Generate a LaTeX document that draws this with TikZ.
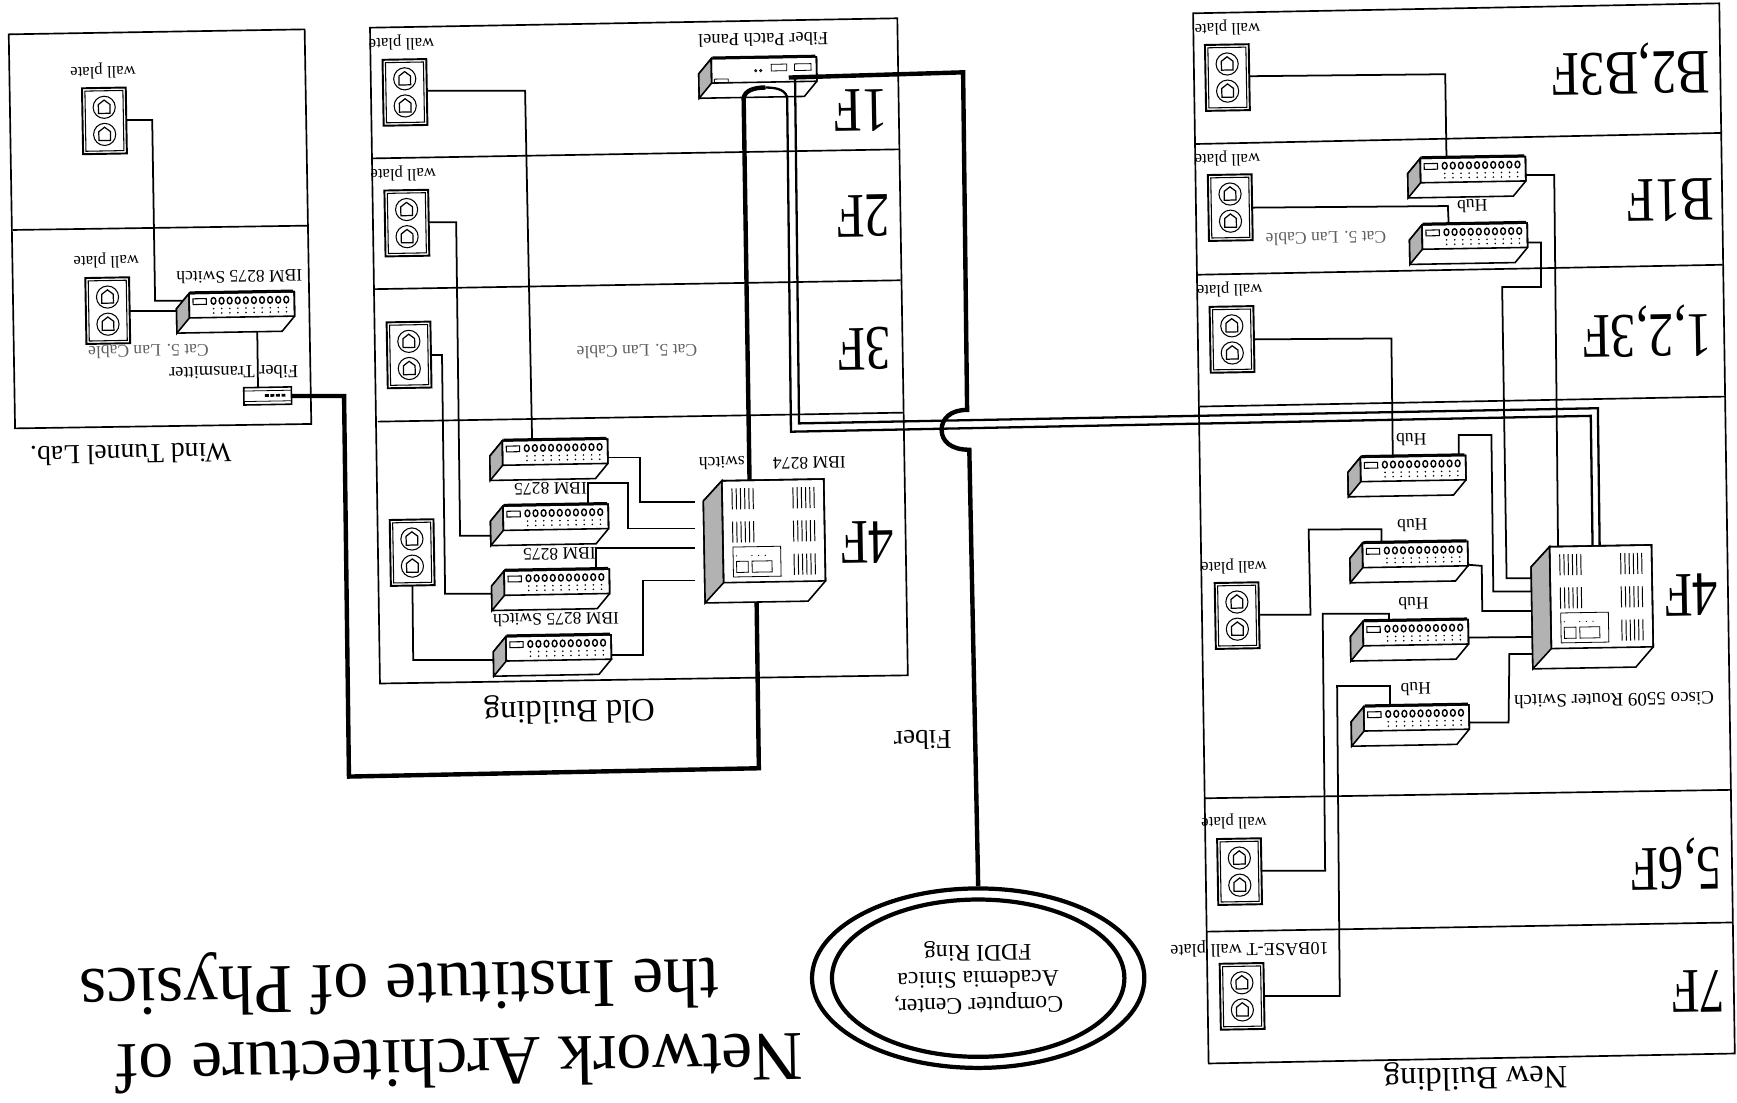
\documentclass[tikz,border=0pt]{standalone}
\usepackage{fontspec}
\setmainfont{Liberation Serif}
\newfontfamily\floorfont[FakeStretch=0.8]{Liberation Serif}
\usetikzlibrary{backgrounds, shapes.geometric}
\newcommand{\ovpx}{0.0221556cm}
\newcommand{\hubbody}{%
  \node[devbox, minimum width=107*\ovpx, minimum height=35.5*\ovpx] (-b) at (41.75,17.75) {};
  \filldraw[devline, fill=white] (0,0) -- (95,0) -- (95,22) -- (83.5,35.5) -- (-11.5,35.5) -- (-11.5,13.5) -- cycle;
  \filldraw[devline, fill=black!30] (0,0) -- (-11.5,13.5) -- (-11.5,35.5) -- (0,22) -- cycle;
  \draw[devline] (0,22) rectangle (95,0);
  \draw[line width=1pt] (1,-1.2) -- (94,-1.2);
}
\tikzset{
  tilt/.style={rotate=1},
  devbox/.style={inner sep=0pt, outer sep=0pt},
  devline/.style={line width=0.9pt},
  thinline/.style={line width=0.45pt},
  bldg/.style={line width=0.95pt},
  wire/.style={line width=1pt},
  fiber/.style={line width=2.5pt},
  fibermid/.style={line width=1.3pt},
  lbl/.style={rotate=181, inner sep=0pt, font=\fontsize{10}{12}\selectfont},
  lblsm/.style={lbl, font=\fontsize{9.5}{11}\selectfont},
  lblcat/.style={lbl, text=black!62},
  floorlbl/.style={rotate=181, inner sep=0pt, font=\fontsize{36}{40}\floorfont},
  namelbl/.style={rotate=181, inner sep=0pt, font=\fontsize{18.5}{20}\selectfont},
  titlelbl/.style={rotate=181, inner sep=0pt, font=\fontsize{39.8}{44}\selectfont},
  ringline/.style={draw, ellipse, inner sep=0pt, line width=2.4pt},
  pics/wallplate/.style={code={
    \node[devbox, minimum width=39.5*\ovpx, minimum height=59.5*\ovpx] (-b) at (19.75,29.75) {};
    \filldraw[line width=1.1pt, fill=white] (0,0) rectangle (39.5,59.5);
    \draw[line width=0.6pt] (2.6,2.6) rectangle (36.9,56.9);
    \foreach \cy in {17.5,42} {
      \draw[line width=0.6pt] (19.75,\cy) circle [radius=10];
      \draw[line width=0.7pt] (14.5,\cy+5.5) -- (25,\cy+5.5) -- (25,\cy-2.5) -- (19.75,\cy-6.5) -- (14.5,\cy-2.5) -- cycle;
    }
  }},
  pics/hub/.style={code={
    \hubbody
    \draw[line width=0.6pt] (3.5,4.8) rectangle (15.5,10);
    \foreach \i in {0,...,9} {
      \draw[line width=0.8pt] (22+\i*7.3,7) ellipse [x radius=2.2, y radius=3];
      \fill (22+\i*7.3,14) circle [radius=0.8];
      \fill (22+\i*7.3,18) circle [radius=0.8];
    }
  }},
  pics/patchpanel/.style={code={
    \hubbody
    \draw[thinline] (54,6) rectangle (68,12);
    \draw[thinline] (75,6) rectangle (90,12);
    \draw[thinline] (40,11.5) circle [radius=1];
    \draw[thinline] (44.5,11.5) circle [radius=1];
    \draw[thinline] (2.5,18.5) rectangle (15,22);
  }},
  pics/transmitter/.style={code={
    \node[devbox, minimum width=43*\ovpx, minimum height=15.6*\ovpx] (-b) at (21.5,7.8) {};
    \filldraw[devline, fill=white] (0,0) rectangle (43,15.6);
    \draw[thinline] (0,3) -- (43,3);
    \draw[thinline] (0,12.5) -- (43,12.5);
    \foreach \i in {0,...,3} {\fill (19+\i*5,6.2) rectangle (22.5+\i*5,8.6);}
  }},
  pics/bigswitch/.style={code={
    \node[devbox, minimum width=109*\ovpx, minimum height=110*\ovpx] (-b) at (37.5,55) {};
    \filldraw[devline, fill=white] (0,0) -- (92,0) -- (92,92) -- (76,110) -- (-17,110) -- (-17,18) -- cycle;
    \filldraw[devline, fill=black!30] (0,0) -- (-17,18) -- (-17,110) -- (0,92) -- cycle;
    \draw[devline] (0,92) rectangle (92,0);
    \foreach \cx/\cy in {9/7, 64/7, 9/37, 64/37, 64/67} {
      \foreach \k in {0,...,5} {\draw[line width=0.55pt] (\cx+\k*3.8,\cy) -- (\cx+\k*3.8,\cy+19);}
    }
    \draw[thinline] (9,60) rectangle (52,87);
    \draw[thinline] (12,73) rectangle (22.5,83);
    \draw[thinline] (26,73) rectangle (44,83);
    \foreach \k in {12,26,32,38} {\fill (\k,68) circle [radius=0.6];}
  }}
}
\begin{document}
\begin{tikzpicture}[x=\ovpx, y=-\ovpx]
  \useasboundingbox (0,0) rectangle (1568,995);
  % devices
  \foreach \n/\x/\y in {
    wpWa/74/79.7, wpWb/77/251,
    wpOa/345.3/54, wpOb/347/172, wpOc/349/291, wpOd/351.8/469.4,
    wpNa/1087.7/40.6, wpNb/1090.3/158, wpNc/1091.9/277, wpNd/1096.5/526.3, wpNe/1098.7/757.4, wpNf/1101/870} {
    \pic[tilt] (\n) at (\x,\y) {wallplate};
  }
  \foreach \n/\x/\y in {
    hubW/170.6/265,
    hubOa/453.4/398, hubOb/454/456.8, hubOc/455/515.4, hubOd/456.6/574.7,
    hubNa/1282/143, hubNb/1283.6/203, hubNc/1228/412.8, hubNd/1229.8/490.4, hubNe/1230.3/561, hubNf/1231/637.9} {
    \pic[tilt] (\n) at (\x,\y) {hub};
  }
  \pic[tilt] (swO) at (651.6,434) {bigswitch};
  \pic[tilt] (swN) at (1398.8,493.5) {bigswitch};
  \pic[tilt] (panel) at (642,53) {patchpanel};
  \pic[tilt] (ftx) at (220,350) {transmitter};
  \node[ringline, minimum width=300*\ovpx, minimum height=162*\ovpx] (ringO) at (883,883) {};
  \node[ringline, minimum width=264*\ovpx, minimum height=142*\ovpx] (ringI) at (883,883) {};

  % buildings and cables go under the devices
  \begin{scope}[on background layer]
    \draw[bldg] (7.9,31) -- (275,26.5) -- (281,382.7) -- (13.6,386.7) -- cycle;
    \draw[bldg] (11.4,207.6) -- (277.7,203.7);
    \draw[bldg] (334,25) -- (810,16.5) -- (819.5,609.6) -- (343,617) -- cycle;
    \foreach \xa/\ya/\xb/\yb in {335.7/143/812/134.8, 338.6/261/813/253, 341/380.6/815/372.5} {
      \draw[bldg] (\xa,\ya) -- (\xb,\yb);
    }
    \draw[bldg] (1077,12) -- (1552,3) -- (1566,951) -- (1091,960) -- cycle;
    \foreach \xa/\ya/\xb/\yb in {1079/130/1554/120, 1081/248/1555/239, 1083/367/1557/358, 1087.5/720.6/1563/713, 1089/841/1564/832.7} {
      \draw[bldg] (\xa,\ya) -- (\xb,\yb);
    }
    % wind tunnel
    \draw[wire] (wpWa-b.center |- 0,108.3) -- (137.4,108.3) -- (140,271.4) -- (hubW-b.center |- 0,271.4);
    \draw[wire] (wpWb-b.center |- 0,280.4) -- (hubW-b.center |- 0,280.4);
    \draw[wire] (232,0 |- hubW-b.center) -- (233,0 |- ftx-b.center);
    % old building
    \draw[wire] (wpOa-b.center |- 0,82) -- (474,82) -- (480.3,396) -- (480.3,0 |- hubOa-b.center);
    \draw[wire] (wpOb-b.center |- 0,200.7) -- (411.8,200.7) -- (415.3,483.6) -- (hubOb-b.center |- 0,483.6);
    \draw[wire] (wpOc-b.center |- 0,320.5) -- (399,320.5) -- (401.8,536) -- (hubOc-b.center |- 0,536);
    \draw[wire] (372,0 |- wpOd-b.center) -- (373,595.8) -- (hubOd-b.center |- 0,595.8);
    \draw[wire] (hubOa-b.center |- 0,413) -- (578,413) -- (578,453) -- ([xshift=-5pt]swO-b.west |- 0,453);
    \draw[wire] (531,0 |- hubOb-b.center) -- (531,436) -- (567,436) -- (567,477) -- ([xshift=-5pt]swO-b.west |- 0,477);
    \draw[wire] (538,0 |- hubOc-b.center) -- (538,495) -- ([xshift=-5pt]swO-b.west |- 0,495);
    \draw[wire] (hubOd-b.center |- 0,591) -- (580.6,591) -- (580.6,524) -- ([xshift=-5pt]swO-b.west |- 0,524);
    % new building
    \draw[wire] (wpNa-b.center |- 0,69) -- (1304.6,67) -- (1306,0 |- hubNa-b.center);
    \draw[wire] (wpNb-b.center |- 0,187.6) -- (1307,186) -- (1308.5,0 |- hubNb-b.center);
    \draw[wire] (wpNc-b.center |- 0,306.5) -- (1256,305.5) -- (1257.5,0 |- hubNc-b.center);
    \draw[wire] (hubNa-b.center |- 0,158) -- (1403,158) -- (1407,0 |- swN-b.center);
    \draw[wire] (hubNb-b.center |- 0,219) -- (1391,219) -- (1391,259) -- (1356,259) -- (1360,522) -- (swN-b.west |- 0,522);
    \draw[wire] (1316.7,0 |- hubNc-b.center) -- (1316.7,392.6) -- (1346.3,392.6) -- (1348,534) -- (swN-b.west |- 0,534);
    \draw[wire] (hubNd-b.center |- 0,505.4) -- (1337.6,510.8) -- (1338,551.5) -- (swN-b.west |- 0,551.5);
    \draw[wire] (1247.4,0 |- hubNd-b.center) -- (1247,477.7) -- (1181.3,478) -- (1183,555) -- (wpNd-b.center |- 0,555);
    \draw[wire] (hubNe-b.center |- 0,576) -- (swN-b.west |- 0,575);
    \draw[wire] (1253.8,0 |- hubNe-b.center) -- (1253.8,554) -- (1194,554) -- (1196.2,786) -- (wpNe-b.center |- 0,786);
    \draw[wire] (hubNf-b.center |- 0,652.3) -- (1361.8,652.3) -- (1362.5,590.3) -- (swN-b.west |- 0,590.3);
    \draw[wire] (1254.8,0 |- hubNf-b.center) -- (1254.8,619.2) -- (1207,619.2) -- (1209.4,899) -- (wpNf-b.center |- 0,899);
  \end{scope}

  % fiber
  \draw[fiber] (ftx-b.east) -- (310.6,357.5) -- (315,701) -- (685,693.5) -- (683,0 |- swO-b.south);
  \draw[fiber] (676.6,0 |- swO-b.north) -- (671.3,89) .. controls (672,82) and (680,79) .. (691,79);
  \draw[fibermid] (691,79) .. controls (703,79) and (710,82) .. (710.6,89) -- (714,389.7) -- (1436,375.4) -- (1437.6,0 |- swN-b.north);
  \draw[fibermid] (717.7,0 |- panel-b.center) -- (721.3,382.2) -- (1442.4,368.5) -- (1444,0 |- swN-b.north);
  \draw[fiber] (712,0 |- panel-b.center) -- (869.4,65.3) -- (873,370) .. controls (858,370) and (850,378) .. (850,388) .. controls (850,398) and (858,406) .. (875,406) -- (ringO.north);

  % labels
  \foreach \n/\x/\y in {
    lbWa/93/64, lbWb/96/235, lbOa/362.5/38.5, lbOb/364/156.5,
    lbNa/1108/25, lbNb/1108/143, lbNc/1110/261, lbNd/1114/511, lbNe/1114/741.7} {
    \node[lblsm] (\n) at (\x,\y) {wall plate};
  }
  \node[lblsm, font=\fontsize{10.4}{12}\selectfont] (lbNf) at (1128,856) {10BASE-T wall plate};
  \foreach \n/\x/\y in {lbCa/134/317, lbCb/575/317, lbCc/1197/215} {
    \node[lblcat] (\n) at (\x,\y) {Cat 5. Lan Cable};
  }
  \foreach \n/\x/\y in {lbHa/1329/186, lbHb/1274/397, lbHc/1275/474, lbHd/1276/545, lbHe/1278/622} {
    \node[lbl] (\n) at (\x,\y) {Hub};
  }
  \foreach \n/\x/\y/\t in {
    lbSa/216/250/IBM 8275 Switch, lbSb/497/441/IBM 8275, lbSc/505/500/IBM 8275,
    lbSd/502/559/IBM 8275 Switch, lbSe/730.6/418/IBM 8274, lbSf/651.6/418/switch} {
    \node[lbl] (\n) at (\x,\y) {\t};
  }
  \node[lbl, font=\fontsize{10.5}{12}\selectfont] (lbFt) at (211,336.4) {Fiber Transmitter};
  \node[lbl, font=\fontsize{10.5}{12}\selectfont] (lbPp) at (689,36) {Fiber Patch Panel};
  \node[lbl, font=\fontsize{10.8}{12}\selectfont] (lbCs) at (1457,632) {Cisco 5509 Router Switch};
  \foreach \n/\x/\y/\t in {
    flOa/777/100/1F, flOb/779/195/2F, flOc/780/315/3F, flOd/783/490/4F,
    flNa/1472/62/{B2,B3F}, flNb/1508/181/B1F, flNc/1487/299/{1,2,3F}, flNd/1527/537/4F, flNe/1513/780/{5,6F}, flNf/1533/895/7F} {
    \node[floorlbl] (\n) at (\x,\y) {\t};
  }
  \node[namelbl] (lbOld) at (514,640) {Old Building};
  \node[namelbl] (lbNew) at (1332,971) {New Building};
  \node[namelbl, font=\fontsize{15.7}{18}\selectfont] (lbWind) at (118,410) {Wind Tunnel Lab.};
  \node[namelbl, font=\fontsize{15.5}{18}\selectfont] (lbFiber) at (833,668) {Fiber};
  \node[lbl, align=center, font=\fontsize{13.5}{15}\selectfont] (lbRing) at (883,882) {Computer Center,\\Academia Sinica\\FDDI Ring};
  \node[titlelbl] (lbTa) at (415,960) {Network Architecture of};
  \node[titlelbl] (lbTb) at (360,886) {the Institute of Physics};
\end{tikzpicture}
\end{document}
